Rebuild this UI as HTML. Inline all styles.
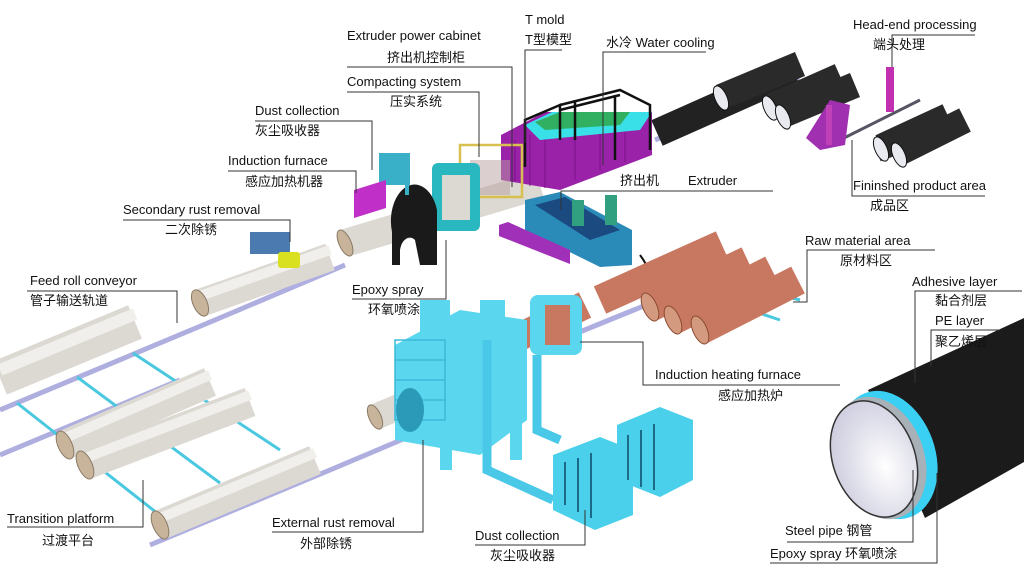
<!DOCTYPE html>
<html><head><meta charset="utf-8">
<style>
html,body{margin:0;padding:0;background:#fff;}
svg{display:block;}
text{font-family:"Liberation Sans","Noto Sans CJK SC",sans-serif;font-size:13px;fill:#111;}
</style></head><body>
<svg width="1024" height="574" viewBox="0 0 1024 574" xmlns="http://www.w3.org/2000/svg">
<defs>
<radialGradient id="inr" cx="0.6" cy="0.6" r="0.7"><stop offset="0" stop-color="#ffffff"/><stop offset="1" stop-color="#c8c8dc"/></radialGradient>
</defs>
<!-- conveyor rails -->
<g stroke="#9a9ad8" stroke-width="5" fill="none" opacity="0.8">
<path d="M0 410 L215 320 L345 265"/>
<path d="M0 455 L180 380"/>
<path d="M150 545 L330 470 L420 432"/>
<path d="M560 340 L720 275"/>
<path d="M655 140 L800 80"/>
</g>
<g stroke="#4ac8e0" stroke-width="3" fill="none">
<path d="M17 403 L157 513"/><path d="M77 377 L220 483"/><path d="M133 353 L280 450"/>
<path d="M880 160 L960 130" stroke="#556"/><path d="M840 140 L920 100" stroke="#556"/>
<path d="M740 285 L800 300"/><path d="M720 300 L780 320"/>
</g>
<!-- white pipes -->
<g stroke-linecap="butt">
<line x1="0" y1="378" x2="135" y2="322" stroke="#dcd8d2" stroke-width="36"/>
<line x1="0" y1="370" x2="135" y2="314" stroke="#f1efec" stroke-width="12"/>
<line x1="65" y1="445" x2="210" y2="382" stroke="#dcd8d2" stroke-width="30"/>
<line x1="65" y1="438" x2="210" y2="375" stroke="#f1efec" stroke-width="10"/>
<line x1="85" y1="465" x2="250" y2="402" stroke="#dcd8d2" stroke-width="30"/>
<line x1="85" y1="458" x2="250" y2="395" stroke="#f1efec" stroke-width="10"/>
<line x1="160" y1="525" x2="315" y2="460" stroke="#dcd8d2" stroke-width="30"/>
<line x1="160" y1="518" x2="315" y2="453" stroke="#f1efec" stroke-width="10"/>
<line x1="200" y1="303" x2="330" y2="257" stroke="#dcd8d2" stroke-width="28"/>
<line x1="200" y1="296" x2="330" y2="250" stroke="#f1efec" stroke-width="10"/>
<line x1="345" y1="243" x2="540" y2="185" stroke="#dcd8d2" stroke-width="28"/>
<line x1="375" y1="417" x2="420" y2="398" stroke="#dcd8d2" stroke-width="26"/>
</g>
<g fill="#c8b49a" stroke="#8a7a66">
<ellipse cx="65" cy="445" rx="7" ry="15" transform="rotate(-24 65 445)"/>
<ellipse cx="85" cy="465" rx="7" ry="15" transform="rotate(-24 85 465)"/>
<ellipse cx="160" cy="525" rx="7" ry="15" transform="rotate(-24 160 525)"/>
<ellipse cx="200" cy="303" rx="7" ry="14" transform="rotate(-24 200 303)"/>
<ellipse cx="345" cy="243" rx="6" ry="14" transform="rotate(-24 345 243)"/>
<ellipse cx="375" cy="417" rx="6" ry="13" transform="rotate(-24 375 417)"/>
</g>
<!-- black pipes -->
<g stroke-linecap="butt">
<line x1="657" y1="133" x2="794" y2="72" stroke="#222" stroke-width="28"/>
<line x1="721" y1="97" x2="800" y2="64" stroke="#2a2a2a" stroke-width="26"/>
<line x1="770" y1="107" x2="840" y2="76" stroke="#2a2a2a" stroke-width="26"/>
<line x1="783" y1="115" x2="855" y2="85" stroke="#2a2a2a" stroke-width="26"/>
<line x1="881" y1="147" x2="948" y2="116" stroke="#2a2a2a" stroke-width="26"/>
<line x1="899" y1="153" x2="965" y2="120" stroke="#2a2a2a" stroke-width="26"/>
</g>
<g fill="#e8eaf0" stroke="#111">
<ellipse cx="721" cy="98" rx="6" ry="13" transform="rotate(-24 721 98)"/>
<ellipse cx="770" cy="108" rx="6" ry="13" transform="rotate(-24 770 108)"/>
<ellipse cx="783" cy="117" rx="6" ry="13" transform="rotate(-24 783 117)"/>
<ellipse cx="881" cy="149" rx="6" ry="13" transform="rotate(-24 881 149)"/>
<ellipse cx="899" cy="155" rx="6" ry="13" transform="rotate(-24 899 155)"/>
</g>
<!-- head-end -->
<rect x="886" y="67" width="8" height="45" fill="#c030b0"/>
<polygon points="806,138 830,100 850,105 845,145 820,150" fill="#a030b0"/>
<rect x="826" y="105" width="6" height="40" fill="#c040b8"/>
<!-- water cooling -->
<polygon points="501,135 545,112 652,112 652,155 560,190 501,180" fill="#9a22a8"/>
<g stroke="#7a1288" stroke-width="1"><path d="M515 140 V182 M530 135 V186 M545 130 V188 M575 125 V180 M600 122 V170 M625 120 V162"/></g>
<polygon points="525,125 552,112 652,112 640,130 540,140" fill="#3ae0e8"/>
<polygon points="535,122 560,112 630,112 620,125 545,130" fill="#30b060"/>
<g stroke="#111" stroke-width="2.5" fill="none">
<path d="M525 167 L525 120 L560 105 L560 140"/><path d="M560 105 L620 90 L650 105 L650 150"/>
<path d="M560 110 L620 95 M575 100 L575 140 M615 95 L615 160"/>
</g>
<!-- compacting / furnace -->
<rect x="460" y="145" width="62" height="52" fill="none" stroke="#d8c050" stroke-width="2.5"/>
<rect x="470" y="160" width="40" height="35" fill="#b8a0a0" opacity="0.5"/>
<rect x="432" y="163" width="48" height="68" rx="6" fill="#2ab8c0"/>
<rect x="442" y="175" width="28" height="45" fill="#dcd8d2"/>
<path d="M392 232 A22 34 0 0 1 437 210 L437 265 L420 265 L415 240 A10 16 0 0 0 400 250 L400 265 L392 265 Z" fill="#1a1a1a"/>
<rect x="379" y="153" width="31" height="32" fill="#3ab0c8"/>
<rect x="405" y="155" width="4" height="40" fill="#3ab0c8"/>
<polygon points="354,190 386,180 386,208 354,218" fill="#c030c8"/>
<rect x="250" y="232" width="40" height="22" fill="#4a7ab0"/>
<rect x="278" y="252" width="22" height="16" rx="3" fill="#d8e020"/>
<!-- extruder -->
<polygon points="525,200 560,192 632,230 632,265 600,267 525,230" fill="#2a8ab8"/>
<polygon points="535,205 565,197 620,230 590,240" fill="#1a4a80"/>
<rect x="572" y="200" width="12" height="26" fill="#30a080"/>
<rect x="605" y="195" width="12" height="30" fill="#30a080"/>
<polygon points="499,225 508,222 570,250 570,264 499,236" fill="#a030b8"/>
<path d="M640 255 Q655 275 645 285" stroke="#111" stroke-width="2" fill="none"/>
<!-- orange pipes -->
<g stroke-linecap="butt" stroke="#c87860">
<line x1="513" y1="340" x2="585" y2="305" stroke-width="28"/>
<line x1="600" y1="300" x2="722" y2="245" stroke-width="30"/>
<line x1="650" y1="307" x2="748" y2="261" stroke-width="30"/>
<line x1="673" y1="320" x2="772" y2="270" stroke-width="30"/>
<line x1="700" y1="330" x2="798" y2="280" stroke-width="30"/>
</g>
<g fill="#d49a80" stroke="#8a4a30">
<ellipse cx="650" cy="307" rx="7" ry="15" transform="rotate(-24 650 307)"/>
<ellipse cx="673" cy="320" rx="7" ry="15" transform="rotate(-24 673 320)"/>
<ellipse cx="700" cy="330" rx="7" ry="15" transform="rotate(-24 700 330)"/>
</g>
<!-- cyan equipment -->
<g fill="#5ad6ee">
<polygon points="395,345 460,310 527,320 527,420 480,455 395,440"/>
<rect x="420" y="300" width="30" height="40"/>
<rect x="480" y="300" width="25" height="40"/>
<rect x="510" y="330" width="12" height="130"/>
<rect x="530" y="295" width="52" height="60" rx="8"/>
<rect x="440" y="400" width="12" height="70"/>
</g>
<rect x="545" y="305" width="25" height="40" fill="#c87860"/>
<g stroke="#4ac8e8" stroke-width="9" fill="none">
<path d="M487 340 L487 470 L553 500"/><path d="M537 355 L537 430 L560 440"/>
</g>
<g fill="none" stroke="#3ab8d8" stroke-width="1.5">
<rect x="395" y="340" width="50" height="80"/><path d="M395 360 H445 M395 380 H445 M395 400 H445"/>
</g>
<ellipse cx="410" cy="410" rx="14" ry="22" fill="#2a9ab8"/>
<polygon points="553,455 600,437 633,450 633,515 595,530 553,510" fill="#4ad0ea"/>
<polygon points="617,425 660,407 693,420 693,480 660,497 617,480" fill="#4ad0ea"/>
<g stroke="#1a6a88" stroke-width="2"><path d="M565 462 V505 M578 458 V512 M591 453 V518 M628 435 V480 M641 430 V487 M654 424 V490"/></g>
<!-- big pipe -->
<polygon points="868,390 1024,318 1024,462 925,518" fill="#1b1b1b"/>
<ellipse cx="888" cy="455" rx="47" ry="66" transform="rotate(-20 888 455)" fill="#3ad0f4"/>
<ellipse cx="879" cy="458" rx="45" ry="63" transform="rotate(-20 879 458)" fill="#a8b0b8"/>
<ellipse cx="874" cy="459" rx="41" ry="60" transform="rotate(-20 874 459)" fill="url(#inr)" stroke="#333" stroke-width="1.5"/>
<!-- leader lines -->
<g stroke="#333" stroke-width="1" fill="none">
<path d="M525 143 L525 50 L562 50"/>
<path d="M347 67 L512 67 L512 187"/>
<path d="M347 92 L479 92 L479 157"/>
<path d="M255 121 L372 121 L372 170"/>
<path d="M228 171 L356 171 L356 193"/>
<path d="M603 165 L603 52 L706 52"/>
<path d="M892 67 L892 35 L975 35"/>
<path d="M561 210 L561 191 L773 191"/>
<path d="M852 140 L852 196 L985 196"/>
<path d="M793 302 L807 302 L807 250 L935 250"/>
<path d="M580 342 L643 342 L643 385 L840 385"/>
<path d="M446 240 L446 299 L352 299"/>
<path d="M423 440 L423 532 L272 532"/>
<path d="M585 510 L585 545 L475 545"/>
<path d="M143 480 L143 527 L7 527"/>
<path d="M177 323 L177 291 L27 291"/>
<path d="M290 242 L290 220 L123 220"/>
<path d="M915 383 L915 291 L1022 291"/>
<path d="M931 367 L931 330 L1000 330"/>
<path d="M913 470 L913 542 L787 542"/>
<path d="M937 473 L937 563 L770 563"/>
</g>
<!-- labels -->
<text x="525" y="24">T mold</text><text x="525" y="44">T型模型</text>
<text x="347" y="40">Extruder power cabinet</text><text x="387" y="62">挤出机控制柜</text>
<text x="606" y="47">水冷 Water cooling</text>
<text x="853" y="29">Head-end processing</text><text x="873" y="49">端头处理</text>
<text x="347" y="86">Compacting system</text><text x="390" y="106">压实系统</text>
<text x="255" y="115">Dust collection</text><text x="255" y="135">灰尘吸收器</text>
<text x="228" y="165">Induction furnace</text><text x="245" y="186">感应加热机器</text>
<text x="620" y="185">挤出机</text><text x="688" y="185">Extruder</text>
<text x="853" y="190">Fininshed product area</text><text x="870" y="210">成品区</text>
<text x="123" y="214">Secondary rust removal</text><text x="165" y="234">二次除锈</text>
<text x="805" y="245">Raw material area</text><text x="840" y="265">原材料区</text>
<text x="30" y="285">Feed roll conveyor</text><text x="30" y="305">管子输送轨道</text>
<text x="352" y="294">Epoxy spray</text><text x="368" y="314">环氧喷涂</text>
<text x="912" y="286">Adhesive layer</text><text x="935" y="305">黏合剂层</text>
<text x="935" y="325">PE layer</text><text x="935" y="346">聚乙烯层</text>
<text x="655" y="379">Induction heating furnace</text><text x="718" y="400">感应加热炉</text>
<text x="7" y="523">Transition platform</text><text x="42" y="545">过渡平台</text>
<text x="272" y="527">External rust removal</text><text x="300" y="548">外部除锈</text>
<text x="475" y="540">Dust collection</text><text x="490" y="560">灰尘吸收器</text>
<text x="785" y="535">Steel pipe   钢管</text>
<text x="770" y="558">Epoxy spray  环氧喷涂</text>
</svg>
</body></html>
